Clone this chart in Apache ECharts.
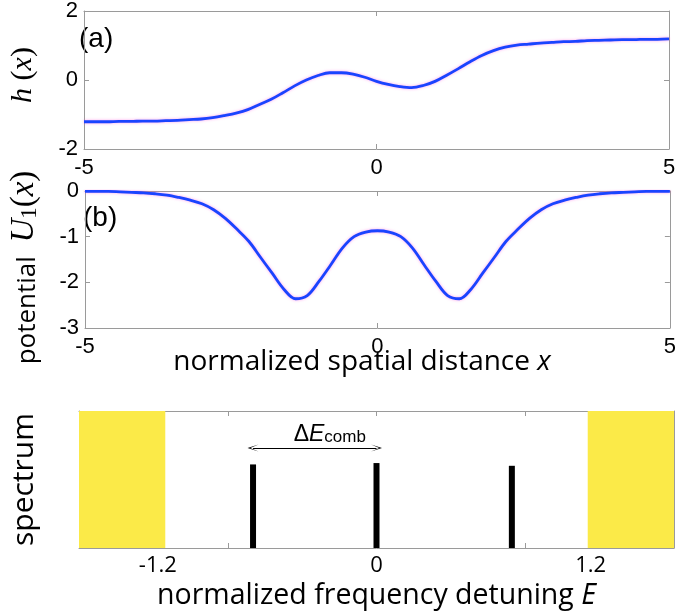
<!DOCTYPE html>
<html>
<head>
<meta charset="utf-8">
<script src="https://cdn.jsdelivr.net/npm/echarts@6/dist/echarts.min.js"></script>
<style>html,body{margin:0;padding:0;background:#fff}#c{width:679px;height:611px}</style>
</head>
<body>
<div id="c"></div>
<script>
// Shared x sampling for panels (a) and (b)
const xs = [-5, -4.8, -4.6, -4.4, -4.2, -4, -3.8, -3.6, -3.4, -3.2, -3, -2.8, -2.6, -2.4, -2.2, -2, -1.8, -1.6, -1.4, -1.2, -1, -0.8, -0.6, -0.4, -0.2, 0, 0.2, 0.4, 0.6, 0.8, 1, 1.2, 1.4, 1.6, 1.8, 2, 2.2, 2.4, 2.6, 2.8, 3, 3.2, 3.4, 3.6, 3.8, 4, 4.2, 4.4, 4.6, 4.8, 5];
// Panel (a): h(x)
const hY = [-1.21, -1.21, -1.21, -1.20, -1.20, -1.19, -1.19, -1.18, -1.17, -1.15, -1.13, -1.09, -1.03, -0.96, -0.86, -0.71, -0.56, -0.37, -0.17, 0.00, 0.13, 0.21, 0.21, 0.17, 0.08, -0.04, -0.13, -0.19, -0.22, -0.16, -0.04, 0.14, 0.33, 0.53, 0.71, 0.85, 0.95, 1.01, 1.04, 1.07, 1.09, 1.11, 1.12, 1.14, 1.15, 1.16, 1.17, 1.17, 1.18, 1.18, 1.19];
// Panel (b): potential U1(x)
const uY = [-0.01, -0.01, -0.01, -0.02, -0.03, -0.04, -0.06, -0.09, -0.14, -0.20, -0.28, -0.41, -0.60, -0.84, -1.10, -1.45, -1.80, -2.15, -2.36, -2.29, -1.98, -1.62, -1.25, -1.00, -0.90, -0.87, -0.90, -1.00, -1.25, -1.62, -1.98, -2.29, -2.36, -2.15, -1.80, -1.45, -1.10, -0.84, -0.60, -0.41, -0.28, -0.20, -0.14, -0.09, -0.06, -0.04, -0.03, -0.02, -0.01, -0.01, -0.01];
// Panel (c): comb spectrum
const combE = [-0.83, 0, 0.91];
const combAmp = [0.61, 0.62, 0.60];
const bandEdge = 1.42;           // yellow continuum edges at ±bandEdge
const combArrow = [-0.83, 0];    // ΔE_comb arrow span
const combArrowY = 0.73;
const cTickLabels = ['-1.2', '0', '1.2'];
const cTickLabelPos = [-1.47, 0, 1.44];

const FONT = 'Liberation Sans';
const TFONT = 'Open Sans';
const GRAY = '#9a9a9a';
const BLUE = '#1a44ff';

function boxAxis(base) {
  return Object.assign({
    axisLine: { show: true, onZero: false, lineStyle: { color: GRAY, width: 1 } },
    axisTick: { show: true, inside: true, length: 5, lineStyle: { color: GRAY } },
    splitLine: { show: false },
    axisLabel: { show: false }
  }, base);
}
const tickLbl = { show: true, color: '#000', fontSize: 22, fontFamily: FONT, margin: 8 };
const titleRich = {
  n: { fontSize: 28, fontFamily: TFONT, fill: '#000', color: '#000' },
  i: { fontSize: 28, fontFamily: TFONT, fontStyle: 'italic', fill: '#000', color: '#000' }
};

const chart = echarts.init(document.getElementById('c'));
const arrowSym = 'path://M0,12 L5,0 L10,12 L5,3 Z';

chart.setOption({
  animation: false,
  grid: [
    { left: 74, right: 10, top: 11, height: 138 },
    { left: 76, right: 7, top: 191, height: 137 },
    { left: 79, right: 5, top: 411, height: 138 }
  ],
  xAxis: [
    boxAxis({ gridIndex: 0, type: 'value', min: -5, max: 5, interval: 5, position: 'bottom', axisLabel: tickLbl }),
    boxAxis({ gridIndex: 0, type: 'value', min: -5, max: 5, interval: 5, position: 'top' }),
    boxAxis({ gridIndex: 1, type: 'value', min: -5, max: 5, interval: 5, position: 'bottom', axisLabel: tickLbl }),
    boxAxis({ gridIndex: 1, type: 'value', min: -5, max: 5, interval: 5, position: 'top' }),
    boxAxis({ gridIndex: 2, type: 'value', min: -2, max: 2, interval: 1, position: 'bottom',
      axisTick: { show: true, inside: true, length: 5, lineStyle: { color: GRAY }, customValues: [-1, 0, 1] },
      axisLabel: Object.assign({}, tickLbl, { fontSize: 22, fontFamily: TFONT, margin: 7, customValues: cTickLabelPos,
        formatter: function (v) {
          let best = 0;
          for (let i = 0; i < cTickLabelPos.length; i++) if (Math.abs(cTickLabelPos[i] - v) < Math.abs(cTickLabelPos[best] - v)) best = i;
          return cTickLabels[best];
        } }),
      name: '{n|normalized frequency detuning }{i|E}', nameLocation: 'middle', nameGap: 33,
      nameTextStyle: { rich: { n: { fontSize: 28.5, fontFamily: TFONT, color: '#000' }, i: { fontSize: 28.5, fontFamily: TFONT, fontStyle: 'italic', color: '#000' } } } }),
    boxAxis({ gridIndex: 2, type: 'value', min: -2, max: 2, interval: 1, position: 'top',
      axisTick: { show: true, inside: true, length: 5, lineStyle: { color: GRAY }, customValues: [-1, 0, 1] } })
  ],
  yAxis: [
    boxAxis({ gridIndex: 0, type: 'value', min: -2, max: 2, interval: 2, position: 'left', axisLabel: Object.assign({}, tickLbl, { margin: 6 }),
      name: '{h|h}{n| (}{i|x}{n|)}', nameLocation: 'middle', nameRotate: 90, nameGap: 46,
      nameTextStyle: { rich: {
        h: { fontSize: 30, fontFamily: 'Liberation Serif', fontStyle: 'italic', color: '#000', padding: [0, 0, 0, 10] },
        i: { fontSize: 30, fontFamily: 'Liberation Serif', fontStyle: 'italic', color: '#000' },
        n: { fontSize: 30, fontFamily: 'Liberation Serif', color: '#000' } } } }),
    boxAxis({ gridIndex: 0, type: 'value', min: -2, max: 2, interval: 2, position: 'right' }),
    boxAxis({ gridIndex: 1, type: 'value', min: -3, max: 0, interval: 1, position: 'left', axisLabel: Object.assign({}, tickLbl, { margin: 6 }),
      name: '{n|potential  }{i|U}{s|1}{m|(}{i|x}{e|)}', nameLocation: 'middle', nameRotate: 90, nameGap: 44,
      nameTextStyle: { rich: {
        n: { fontSize: 26, fontFamily: TFONT, color: '#000', verticalAlign: 'bottom' },
        m: { fontSize: 33, fontFamily: 'Liberation Serif', color: '#000', verticalAlign: 'bottom' },
        e: { fontSize: 33, fontFamily: 'Liberation Serif', color: '#000', verticalAlign: 'bottom', padding: [0, 16, 0, 0] },
        i: { fontSize: 33, fontFamily: 'Liberation Serif', fontStyle: 'italic', color: '#000', verticalAlign: 'bottom' },
        s: { fontSize: 23, fontFamily: 'Liberation Serif', color: '#000', verticalAlign: 'bottom', lineHeight: 22 } } } }),
    boxAxis({ gridIndex: 1, type: 'value', min: -3, max: 0, interval: 1, position: 'right' }),
    boxAxis({ gridIndex: 2, type: 'value', min: 0, max: 1, interval: 0.5, position: 'left',
      axisTick: { show: true, inside: true, length: 5, lineStyle: { color: GRAY }, customValues: [0.5] },
      name: 'spectrum', nameLocation: 'middle', nameRotate: 90, nameGap: 40,
      nameTextStyle: { fontSize: 30, fontFamily: TFONT, color: '#000' } }),
    boxAxis({ gridIndex: 2, type: 'value', min: 0, max: 1, interval: 0.5, position: 'right',
      axisTick: { show: true, inside: true, length: 5, lineStyle: { color: GRAY }, customValues: [0.5] } })
  ],
  series: [
    { type: 'line', xAxisIndex: 0, yAxisIndex: 0, showSymbol: false, smooth: 0.35,
      data: xs.map((x, i) => [x, hY[i]]),
      lineStyle: { color: BLUE, width: 2.8, shadowColor: 'rgba(255,80,220,0.55)', shadowBlur: 3 } },
    { type: 'line', xAxisIndex: 2, yAxisIndex: 2, showSymbol: false, smooth: 0.35,
      data: xs.map((x, i) => [x, uY[i]]),
      lineStyle: { color: BLUE, width: 2.8, shadowColor: 'rgba(255,80,220,0.55)', shadowBlur: 3 } },
    { type: 'bar', xAxisIndex: 4, yAxisIndex: 4, barWidth: 6,
      data: combE.map((x, i) => [x, combAmp[i]]),
      itemStyle: { color: '#000' },
      markArea: { silent: true, itemStyle: { color: '#fbea48' },
        data: [[{ xAxis: -2 }, { xAxis: -bandEdge }], [{ xAxis: bandEdge }, { xAxis: 2 }]] },
      markLine: { silent: true, symbol: [arrowSym, arrowSym], symbolSize: [7, 11],
        lineStyle: { color: '#000', width: 1, type: 'solid' },
        label: { show: true, position: 'middle', distance: 2, padding: [0, 0, 0, 30],
          formatter: '{d|Δ}{e|E}{s|comb}',
          rich: {
            d: { fontSize: 23, fontFamily: FONT, color: '#000' },
            e: { fontSize: 23, fontFamily: FONT, fontStyle: 'italic', color: '#000' },
            s: { fontSize: 17, fontFamily: FONT, color: '#000', verticalAlign: 'bottom' } } },
        data: [[{ coord: [combArrow[0], combArrowY] }, { coord: [combArrow[1], combArrowY] }]] } }
  ],
  graphic: [
    { type: 'text', left: 79, top: 25, style: { text: '(a)', fontSize: 28, fontFamily: FONT, fill: '#000' } },
    { type: 'text', left: 83, top: 204, style: { text: '(b)', fontSize: 28, fontFamily: FONT, fill: '#000' } },
    { type: 'text', left: 82, top: 423, style: { text: '(c)', fontSize: 27, fontFamily: FONT, fill: '#000' } },
    { type: 'text', x: 362, y: 348, style: { text: '{n|normalized spatial distance }{i|x}', rich: titleRich,
      align: 'center', verticalAlign: 'top', fill: '#000' } }
  ]
});
</script>
</body>
</html>
